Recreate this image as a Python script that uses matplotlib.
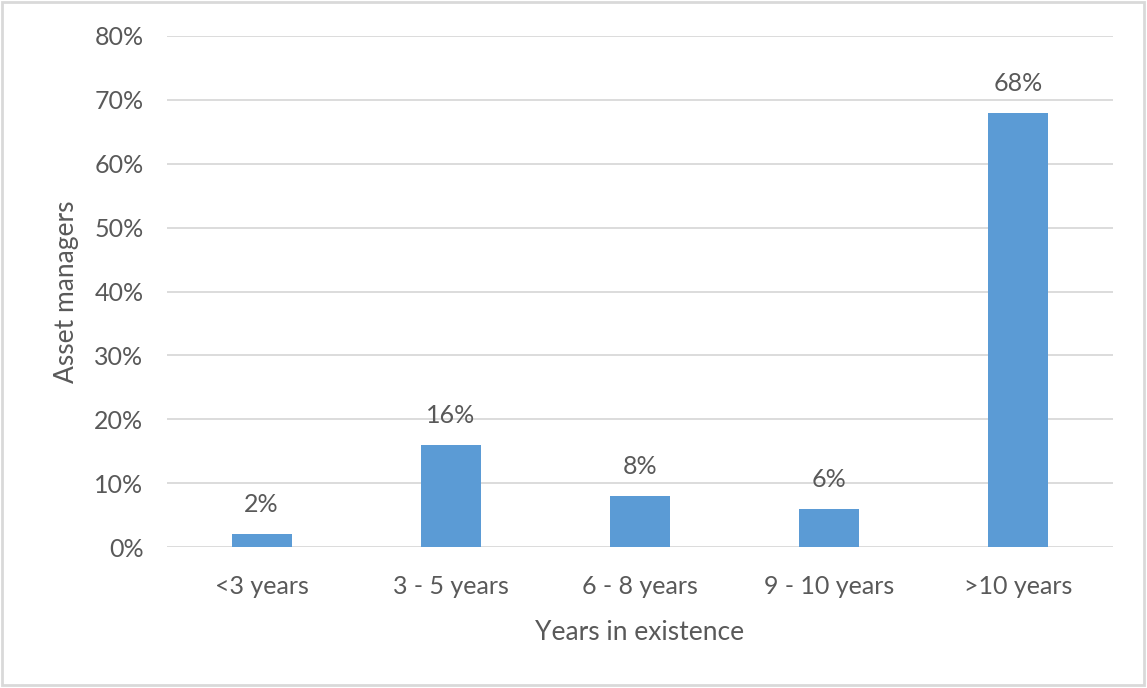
import matplotlib
matplotlib.use("Agg")
import matplotlib.pyplot as plt
from matplotlib.patches import Rectangle
from matplotlib.ticker import FuncFormatter

categories = ["<3 years", "3 - 5 years", "6 - 8 years", "9 - 10 years", ">10 years"]
shares = [2, 16, 8, 6, 68]  # percent of asset managers
y_ticks = [0, 10, 20, 30, 40, 50, 60, 70, 80]

BAR_COLOR = "#5B9BD5"
TEXT_COLOR = "#595959"
GRID_COLOR = "#D9D9D9"

plt.rcParams["font.family"] = ["Lato", "DejaVu Sans"]

fig = plt.figure(figsize=(11.47, 6.88), dpi=100)
ax = fig.add_axes([0.1456, 0.2049, 0.9704 - 0.1456, 0.9477 - 0.2049])

x = range(len(categories))
bars = ax.bar(x, shares, width=0.317, color=BAR_COLOR, zorder=3)
for rect, v in zip(bars, shares):
    ax.annotate(f"{v}%", (rect.get_x() + rect.get_width() / 2, v),
                xytext=(0, 13), textcoords="offset points",
                ha="center", va="bottom", fontsize=18, color=TEXT_COLOR)

ax.set_ylim(0, 80)
ax.set_xlim(-0.5, len(categories) - 0.5)
ax.set_yticks(y_ticks)
ax.yaxis.set_major_formatter(FuncFormatter(lambda v, _: f"{v:.0f}%"))
ax.set_xticks(list(x))
ax.set_xticklabels(categories)
ax.grid(axis="y", color=GRID_COLOR, linewidth=1.3, zorder=0)
ax.tick_params(axis="both", length=0, labelsize=18, labelcolor=TEXT_COLOR)
ax.tick_params(axis="y", pad=17)
ax.tick_params(axis="x", pad=20)
for s in ax.spines.values():
    s.set_visible(False)

ax.set_xlabel("Years in existence", fontsize=19, color=TEXT_COLOR, labelpad=16)
ax.set_ylabel("Asset managers", fontsize=19, color=TEXT_COLOR, labelpad=11)

# light frame round the whole chart
fig.patches.append(Rectangle((0.002, 0.004), 0.995, 0.993, transform=fig.transFigure,
                             fill=False, edgecolor="#D9D9D9", linewidth=2))

fig.savefig("out.png", dpi=100)
